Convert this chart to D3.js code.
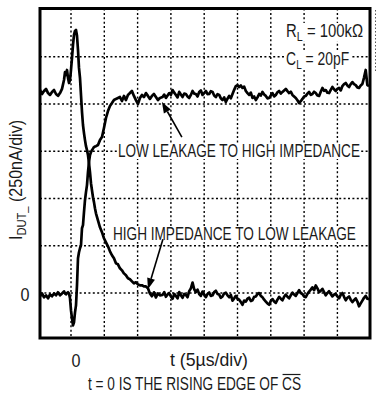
<!DOCTYPE html>
<html><head><meta charset="utf-8">
<script src="https://cdn.jsdelivr.net/npm/d3@7"></script>
<style>
html,body{margin:0;padding:0;background:#fff;}
svg{display:block;}
text{font-family:"Liberation Sans",Arial,"Helvetica",sans-serif;fill:#1a1a1a;}
</style></head><body>
<svg id="c" width="376" height="398"></svg>
<script>
// time in microseconds (5 us/div), current in nA (250 nA/div)
const time = [-5.7,-5.4,-5.1,-4.8,-4.5,-4.2,-3.9,-3.6,-3.3,-3.0,-2.7,-2.4,-2.1,-1.8,
 -1.65,-1.5,-1.35,-1.2,-1.05,-0.9,-0.75,-0.6,-0.45,-0.3,-0.15,0,0.15,0.3,0.45,0.6,0.75,0.9,1.05,1.2,1.35,1.5,1.65,1.8,1.95,2.1,2.25,2.4,2.55,2.7,2.85,3.0,
 3.3,3.6,3.9,4.2,4.5,4.8,5.1,5.4,5.7,6.0,6.3,6.6,6.9,7.2,7.5,7.8,8.1,8.4,8.7,9.0,9.3,9.6,9.9,10.2,10.5,10.8,11.1,11.4,11.7,12.0,12.3,12.6,
 13.0,13.25,13.5,13.75,14.0,14.25,14.5,14.75,15.0,15.25,15.5,15.75,16.0,16.25,16.5,16.75,17.0,17.25,17.5,17.75,
 18.0,18.25,18.5,18.75,19.0,19.25,19.5,19.75,20.0,20.25,20.5,20.75,21.0,21.25,21.5,21.75,22.0,22.25,22.5,22.75,
 23.0,23.25,23.5,23.75,24.0,24.25,24.5,24.75,25.0,25.25,25.5,25.75,26.0,26.25,26.5,26.75,27.0,27.25,27.5,27.75,
 28.0,28.25,28.5,28.75,29.0,29.25,29.5,29.75,30.0,30.25,30.5,30.75,31.0,31.25,31.5,31.75,32.0,32.25,32.5,32.75,
 33.0,33.25,33.5,33.75,34.0,34.25,34.5,34.75,35.0,35.25,35.5,35.75,36.0,36.25,36.5,36.75,37.0,37.25,37.5,37.75,
 38.0,38.25,38.5,38.75,39.0,39.25,39.5,39.75,40.0,40.25,40.5,40.75,41.0,41.25,41.5,41.75,42.0,42.25,42.5,42.75,
 43.0,43.25,43.5,43.75,44.0];

// HIGH IMPEDANCE TO LOW LEAKAGE (starts high, peaks, decays to 0)
const hiToLow = [1058,1074,1053,1069,1080,1058,1048,1064,1074,1053,1043,1058,1080,1127,
 1169,1153,1180,1138,1111,1127,1180,1244,1313,1366,1387,1392,1361,1286,1191,1138,1048,958,889,846,809,777,756,730,687,640,581,544,507,481,449,422,
 385,348,322,290,268,247,221,200,184,157,152,131,120,104,94,78,73,62,51,57,46,41,41,35,35,25,-2,-17,4,-23,-2,-12,
 -10,5,-20,-8,0,-18,-30,-5,-15,-28,5,-12,-25,-5,-10,-22,10,25,55,20,
 5,18,-5,-15,8,-8,-22,-5,3,-15,-12,5,12,-5,-8,-25,-18,-2,2,-12,
 -22,-10,-40,-28,-15,-30,-35,-48,-62,-40,-45,-30,-25,-42,-38,-20,-18,-5,0,-15,
 -22,-35,-45,-55,-62,-42,-32,-45,-52,-35,-20,-30,-38,-20,-8,-20,-28,-12,2,-8,
 -15,0,15,0,-5,-18,-22,-5,8,18,30,15,40,25,5,12,22,5,-12,0,
 10,-5,-18,-8,-5,-18,-28,-10,0,-20,-38,-25,-18,-35,-48,-38,-28,-45,-70,-55,
 -40,-25,-15,-30,-32];

// LOW LEAKAGE TO HIGH IMPEDANCE (starts at 0, dips, rises)
const lowToHi = [-17,-17,-2,-23,-12,-28,-7,-17,-2,-12,4,-12,-2,9,
 -2,-7,0,4,-2,-28,-92,-134,-171,-155,-102,-65,41,184,216,237,253,343,359,428,491,534,571,640,693,730,746,756,764,772,775,777,
 783,809,825,873,926,963,990,1005,1021,1027,1032,1037,1016,1043,1021,1048,1058,1069,1043,1021,1000,1032,1048,1037,1058,1043,1027,1043,1053,1037,1021,1032,
 1037,1050,1032,1045,1058,1048,1074,1060,1048,1035,1064,1050,1037,1055,1053,1040,1032,1048,1069,1055,
 1053,1040,1064,1072,1048,1058,1069,1052,1053,1068,1064,1045,1037,1052,1048,1030,1021,1035,1011,1028,
 1043,1030,1053,1075,1095,1100,1090,1098,1085,1092,1069,1058,1048,1060,1032,1040,1021,1035,1053,1045,
 1064,1050,1043,1030,1032,1045,1058,1040,1048,1062,1069,1055,1064,1072,1080,1068,1058,1065,1048,1040,
 1032,1020,1005,1015,1027,1040,1043,1055,1064,1048,1053,1065,1058,1045,1043,1065,1085,1070,1074,1060,
 1058,1075,1090,1078,1069,1080,1085,1072,1095,1105,1111,1098,1090,1105,1116,1105,1100,1088,1085,1098,
 1106,1140,1180,1100,1095];

const gridT = [-0.75,4.25,9.25,14.25,19.25,24.25,29.25,34.25,39.25];
const gridI = [0,250,500,750,1000,1250];
const xTicks = [0];
const yTicks = [0];

const svg = d3.select("#c");
const x = d3.scaleLinear().domain([-5.75, 44.25]).range([37.7, 370.7]);
const y = d3.scaleLinear().domain([-250, 1500]).range([340.3, 9.5]);
const F = {l:40, t:8.5, r:370, b:338};

svg.append("rect").attr("width",376).attr("height",398).attr("fill","#fff");
svg.append("defs").append("clipPath").attr("id","pc").append("rect")
  .attr("x",F.l).attr("y",F.t).attr("width",F.r-F.l).attr("height",F.b-F.t);

const grid = svg.append("g").attr("clip-path","url(#pc)").attr("stroke","#000").attr("stroke-width",1.4).attr("stroke-dasharray","2,2.4");
grid.selectAll("line.vg").data(gridT).join("line").attr("class","vg")
  .attr("x1",d=>x(d)).attr("x2",d=>x(d)).attr("y1",F.t).attr("y2",F.b);
grid.selectAll("line.hg").data(gridI).join("line").attr("class","hg")
  .attr("y1",d=>y(d)).attr("y2",d=>y(d)).attr("x1",F.l).attr("x2",F.r);

// stray dotted line at right margin
svg.append("line").attr("x1",375.5).attr("x2",375.5).attr("y1",10).attr("y2",72)
  .attr("stroke","#555").attr("stroke-width",1).attr("stroke-dasharray","1.5,2");

// traces
const line = d3.line().x((d,i)=>x(time[i])).y(d=>y(d));
const traces = svg.append("g").attr("clip-path","url(#pc)").attr("fill","none").attr("stroke","#000")
  .attr("stroke-width",2.7).attr("stroke-linejoin","round");
traces.append("path").attr("d",line(hiToLow));
traces.append("path").attr("d",line(lowToHi));

const ann = svg.append("g");
function label(parts, x0, base, size, width){
  const t = ann.append("text").attr("x",x0).attr("y",base).attr("font-size",size);
  parts.forEach(p=>{
    const s = t.append("tspan").text(p.t);
    if(p.sub){ s.attr("font-size",size*0.72).attr("dy",3.5); }
    if(p.up){ s.attr("dy",-3.5); }
  });
  if(width) t.attr("textLength",width).attr("lengthAdjust","spacingAndGlyphs");
  const b = t.node().getBBox();
  ann.insert("rect","text").attr("x",b.x-1).attr("y",b.y+2).attr("width",b.width+2).attr("height",b.height-4).attr("fill","#fff");
  return t;
}
label([{t:"LOW LEAKAGE TO HIGH IMPEDANCE"}], x(6.3), 157, 18, 242);
label([{t:"HIGH IMPEDANCE TO LOW LEAKAGE"}], x(5.55), 240, 18, 243);
label([{t:"R"},{t:"L",sub:true},{t:" = 100kΩ",up:true}], x(31.55), 37, 18, 77);
label([{t:"C"},{t:"L",sub:true},{t:" = 20pF",up:true}], x(31.55), 65, 18, 63);

// arrows (tip at trace, tail at label)
const arrows = [
  {tail:[15.9, 825], tip:[12.9, 1011]},
  {tail:[13.05, 285], tip:[10.8, 20]}
];
arrows.forEach(a=>{
  const x1=x(a.tail[0]), y1=y(a.tail[1]), x2=x(a.tip[0]), y2=y(a.tip[1]);
  const ang = Math.atan2(y2-y1, x2-x1), L=11, W=4;
  const bx = x2-L*Math.cos(ang), by = y2-L*Math.sin(ang);
  svg.append("line").attr("x1",x1).attr("y1",y1).attr("x2",bx).attr("y2",by).attr("stroke","#000").attr("stroke-width",1.6);
  svg.append("path").attr("d",`M${x2},${y2}L${bx+W*Math.sin(ang)},${by-W*Math.cos(ang)}L${bx-W*Math.sin(ang)},${by+W*Math.cos(ang)}Z`).attr("fill","#000");
});

// frame
svg.append("rect").attr("x",F.l).attr("y",F.t).attr("width",F.r-F.l).attr("height",F.b-F.t)
  .attr("fill","none").attr("stroke","#000").attr("stroke-width",3);

// axis labels
svg.selectAll("text.xt").data(xTicks).join("text").attr("class","xt")
  .attr("x",d=>x(d)).attr("y",367).attr("text-anchor","middle").attr("font-size",19)
  .attr("textLength",9).attr("lengthAdjust","spacingAndGlyphs").text(d=>d);
svg.selectAll("text.yt").data(yTicks).join("text").attr("class","yt")
  .attr("x",25).attr("y",y(0)+8).attr("text-anchor","middle").attr("font-size",19)
  .attr("textLength",9).attr("lengthAdjust","spacingAndGlyphs").text(d=>d);

svg.append("text").attr("x",170).attr("y",366).attr("font-size",19)
  .attr("textLength",78).attr("lengthAdjust","spacingAndGlyphs").text("t (5µs/div)");

const yl = svg.append("text").attr("transform","translate(22,240) rotate(-90)").attr("font-size",18)
  .attr("textLength",120).attr("lengthAdjust","spacingAndGlyphs");
yl.append("tspan").text("I");
yl.append("tspan").text("DUT_").attr("font-size",12.5).attr("dy",3.5);
yl.append("tspan").text(" (250nA/div)").attr("dy",-3.5);

const cap = svg.append("text").attr("x",88).attr("y",390).attr("font-size",18)
  .attr("textLength",213).attr("lengthAdjust","spacingAndGlyphs");
cap.append("tspan").text("t = 0 IS THE RISING EDGE OF ");
cap.append("tspan").text("CS");
const n = cap.node(), nc = n.getNumberOfChars();
const sx = n.getStartPositionOfChar(nc-2).x, ex = n.getEndPositionOfChar(nc-1).x;
svg.append("line").attr("x1",sx+0.5).attr("x2",ex-0.5).attr("y1",374.5).attr("y2",374.5).attr("stroke","#1a1a1a").attr("stroke-width",1.2);
</script>
</body></html>
